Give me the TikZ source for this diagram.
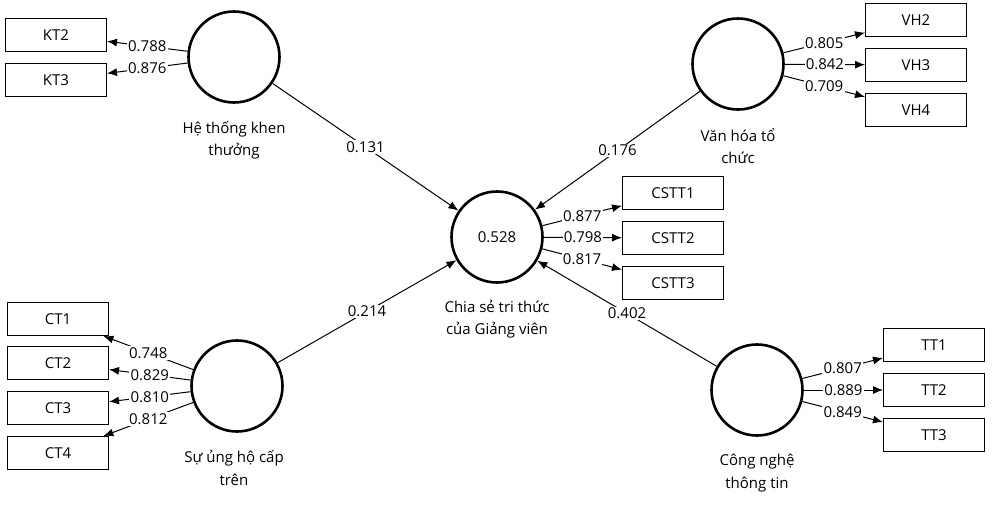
\documentclass[tikz,border=0pt]{standalone}
\usepackage{fontspec}
\setmainfont{Open Sans}
\usetikzlibrary{arrows.meta}
\begin{document}
\begin{tikzpicture}[x=1pt,y=-1pt,
 lv/.style={circle,draw,line width=2.6pt,minimum size=91pt,inner sep=0pt},
 mv/.style={rectangle,draw,line width=1pt,minimum width=101pt,minimum height=33pt,inner sep=0pt},
 ld/.style={fill=white,inner sep=1.2pt,pos=0.5},
 arr/.style={-{Latex[length=10pt,width=8pt]},line width=1pt},
 captxt/.style={align=center,font=\fontsize{15}{22.5}\selectfont},
 font=\fontsize{15}{20}\selectfont]
\useasboundingbox[fill=white] (0,0) rectangle (993,504);
% latent variables
\node[lv] (HK) at (234,57) {};
\node[lv] (VH) at (738,64) {};
\node[lv] (CS) at (497,237) {0.528};
\node[lv] (CT) at (237,386) {};
\node[lv] (TT) at (757,390) {};
% captions
\node[captxt] (cHK) at (234,140) {Hệ thống khen\\thưởng};
\node[captxt] (cVH) at (738,146) {Văn hóa tổ\\chức};
\node[captxt] (cCS) at (497,319) {Chia sẻ tri thức\\của Giảng viên};
\node[captxt] (cCT) at (234,468) {Sự ủng hộ cấp\\trên};
\node[captxt] (cTT) at (757,473) {Công nghệ\\thông tin};
% indicators
\node[mv] (KT2) at (56,35) {KT2};
\node[mv] (KT3) at (56,80) {KT3};
\node[mv] (VH2) at (916,20) {VH2};
\node[mv] (VH3) at (916,65) {VH3};
\node[mv] (VH4) at (916,110) {VH4};
\node[mv] (CSTT1) at (673,193) {CSTT1};
\node[mv] (CSTT2) at (673,238) {CSTT2};
\node[mv] (CSTT3) at (673,283) {CSTT3};
\node[mv] (CT1) at (58,319) {CT1};
\node[mv] (CT2) at (58,363) {CT2};
\node[mv] (CT3) at (58,408) {CT3};
\node[mv] (CT4) at (58,453) {CT4};
\node[mv] (TT1) at (934,345) {TT1};
\node[mv] (TT2) at (934,390) {TT2};
\node[mv] (TT3) at (934,435) {TT3};
% loadings
\draw[arr] (HK) -- node[ld] {0.788} (KT2);
\draw[arr] (HK) -- node[ld] {0.876} (KT3);
\draw[arr] (VH) -- node[ld] {0.805} (VH2);
\draw[arr] (VH) -- node[ld] {0.842} (VH3);
\draw[arr] (VH) -- node[ld] {0.709} (VH4);
\draw[arr] (CS) -- node[ld] {0.877} (CSTT1);
\draw[arr] (CS) -- node[ld] {0.798} (CSTT2);
\draw[arr] (CS) -- node[ld] {0.817} (CSTT3);
\draw[arr] (CT) -- node[ld] {0.748} (CT1);
\draw[arr] (CT) -- node[ld] {0.829} (CT2);
\draw[arr] (CT) -- node[ld] {0.810} (CT3);
\draw[arr] (CT) -- node[ld] {0.812} (CT4);
\draw[arr] (TT) -- node[ld] {0.807} (TT1);
\draw[arr] (TT) -- node[ld] {0.889} (TT2);
\draw[arr] (TT) -- node[ld] {0.849} (TT3);
% paths
\draw[arr] (HK) -- node[ld] {0.131} (CS);
\draw[arr] (VH) -- node[ld] {0.176} (CS);
\draw[arr] (CT) -- node[ld] {0.214} (CS);
\draw[arr] (TT) -- node[ld] {0.402} (CS);
\end{tikzpicture}
\end{document}
